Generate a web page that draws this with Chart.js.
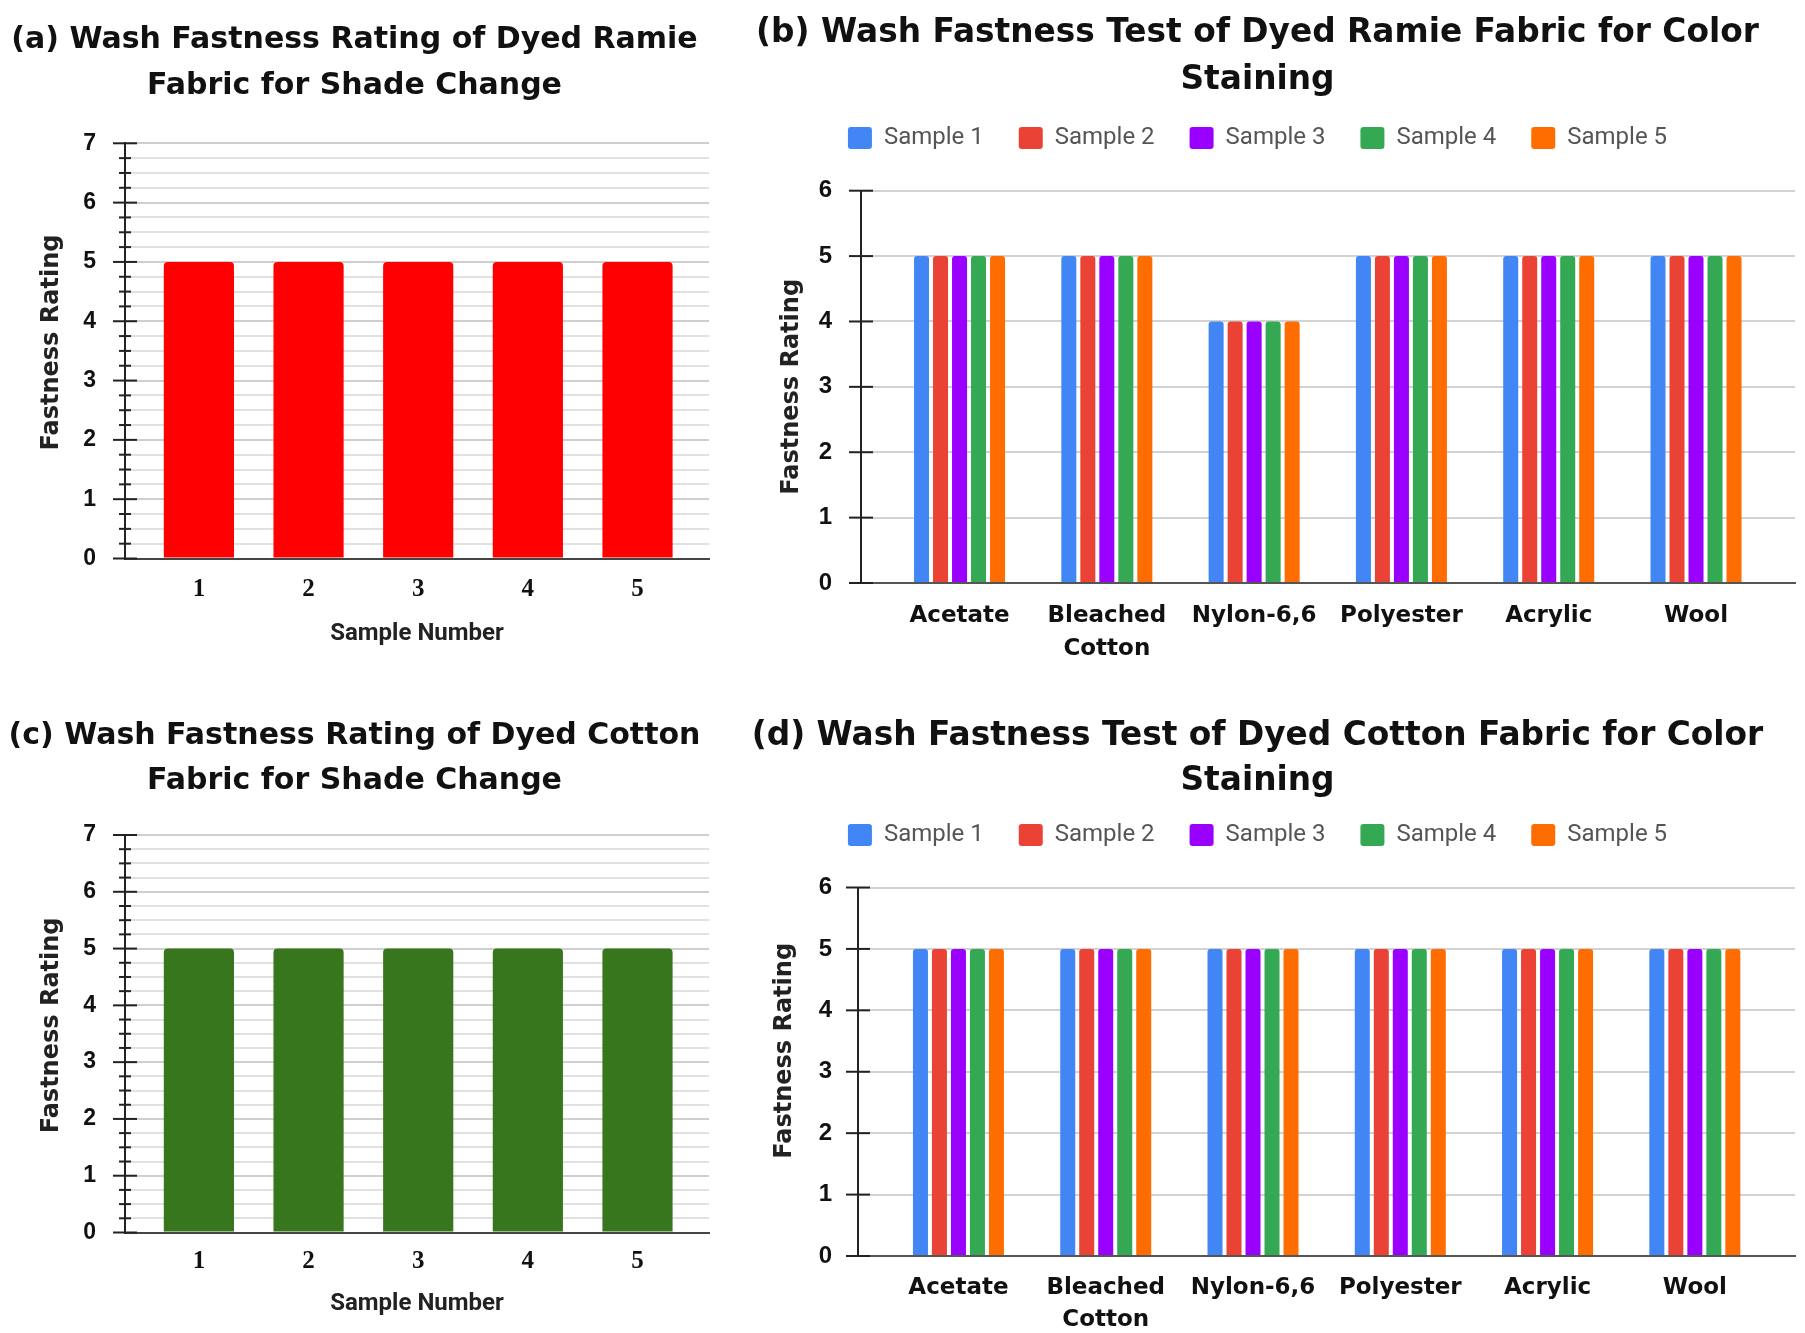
<!DOCTYPE html>
<html>
<head>
<meta charset="utf-8">
<script src="https://cdn.jsdelivr.net/npm/chart.js@4.4.1/dist/chart.umd.min.js"></script>
<style>
html,body{margin:0;padding:0;background:#fff;}
body{width:1805px;height:1333px;position:relative;overflow:hidden;font-family:Roboto,sans-serif;}
canvas{position:absolute;}
</style>
</head>
<body>
<canvas id="chartA" style="left:0;top:0" width="720" height="666"></canvas>
<canvas id="chartB" style="left:720px;top:0" width="1085" height="666"></canvas>
<canvas id="chartC" style="left:0;top:666px" width="720" height="667"></canvas>
<canvas id="chartD" style="left:720px;top:666px" width="1085" height="667"></canvas>
<script>
// ---------------- DATA ----------------
const sampleNumbers = [1, 2, 3, 4, 5];
const ramieShadeChange = [5, 5, 5, 5, 5];
const cottonShadeChange = [5, 5, 5, 5, 5];

const fabrics = ['Acetate', 'Bleached Cotton', 'Nylon-6,6', 'Polyester', 'Acrylic', 'Wool'];
const sampleNames = ['Sample 1', 'Sample 2', 'Sample 3', 'Sample 4', 'Sample 5'];

const ramieStainS1 = [5, 5, 4, 5, 5, 5];
const ramieStainS2 = [5, 5, 4, 5, 5, 5];
const ramieStainS3 = [5, 5, 4, 5, 5, 5];
const ramieStainS4 = [5, 5, 4, 5, 5, 5];
const ramieStainS5 = [5, 5, 4, 5, 5, 5];

const cottonStainS1 = [5, 5, 5, 5, 5, 5];
const cottonStainS2 = [5, 5, 5, 5, 5, 5];
const cottonStainS3 = [5, 5, 5, 5, 5, 5];
const cottonStainS4 = [5, 5, 5, 5, 5, 5];
const cottonStainS5 = [5, 5, 5, 5, 5, 5];

const shadeYRange = [0, 7];     // axis range for shade change charts
const stainYRange = [0, 6];     // axis range for staining charts

const titleA = ['(a) Wash Fastness Rating of Dyed Ramie', 'Fabric for Shade Change'];
const titleB = ['(b) Wash Fastness Test of Dyed Ramie Fabric for Color', 'Staining'];
const titleC = ['(c) Wash Fastness Rating of Dyed Cotton', 'Fabric for Shade Change'];
const titleD = ['(d) Wash Fastness Test of Dyed Cotton Fabric for Color', 'Staining'];
const yAxisTitle = 'Fastness Rating';
const xAxisTitle = 'Sample Number';

// ---------------- STYLE ----------------
const sampleColors = ['#4285F4', '#EA4335', '#9900FF', '#34A853', '#FF6D01'];
const TITLE_FONT = 'DejaVu Sans';

const isInt = v => Math.abs(v - Math.round(v)) < 1e-6;
const lead = n => '\u0020'.repeat(n);

const crossTicks = {
  id: 'crossTicks',
  afterDraw(chart, args, opts) {
    const ys = chart.scales.y, ctx = chart.ctx, x0 = chart.chartArea.left;
    ctx.save();
    ctx.strokeStyle = opts.color || '#222';
    ctx.lineWidth = opts.width || 2;
    ys.ticks.forEach((t, i) => {
      const py = ys.getPixelForTick(i);
      const major = isInt(t.value);
      const l = major ? opts.majorL : opts.minor;
      const r = major ? opts.majorR : opts.minor;
      ctx.beginPath();
      ctx.moveTo(x0 - l, py);
      ctx.lineTo(x0 + r, py);
      ctx.stroke();
    });
    ctx.restore();
  }
};

function shadeChart(id, values, color, titleLines, L) {
  return new Chart(document.getElementById(id), {
    type: 'bar',
    data: {
      datasets: [{
        label: yAxisTitle,
        data: sampleNumbers.map((x, i) => ({ x: x, y: values[i] })),
        backgroundColor: color,
        borderWidth: 0,
        borderRadius: 4,
        borderSkipped: 'start',
        categoryPercentage: 0.64,
        barPercentage: 1
      }]
    },
    options: {
      responsive: false,
      animation: false,
      layout: { padding: { left: 0, right: L.padR, top: 0, bottom: 0 } },
      plugins: {
        legend: { display: false },
        tooltip: { enabled: false },
        title: {
          display: true, text: titleLines, color: '#111',
          font: { family: TITLE_FONT, weight: 'bold', size: L.titleSize, lineHeight: L.titleLH / L.titleSize },
          padding: { top: L.titlePT, bottom: L.titlePB }
        },
        crossTicks: { majorL: 12, majorR: 12, minor: 6, color: '#222', width: 2 }
      },
      scales: {
        x: {
          type: 'linear', min: L.xMin, max: L.xMax, offset: false,
          afterBuildTicks: s => { s.ticks = sampleNumbers.map(v => ({ value: v })); },
          ticks: {
            autoSkip: false, maxRotation: 0, padding: L.xTickPad, color: '#111',
            font: { family: 'Liberation Serif', weight: 'bold', size: 25, lineHeight: 1.2 },
            callback: v => String(v)
          },
          grid: { display: false, drawTicks: false, offset: false },
          border: { display: true, color: '#444', width: 2 },
          title: {
            display: true, text: xAxisTitle, color: '#222',
            font: { family: 'Roboto', weight: 'bold', size: 24, lineHeight: 1.2 },
            padding: { top: 0, bottom: L.xTitlePB }
          },
          afterFit: s => { s.height = L.xHeight; }
        },
        y: {
          type: 'linear', min: shadeYRange[0], max: shadeYRange[1],
          ticks: {
            stepSize: 0.25, maxTicksLimit: 100, autoSkip: false, padding: 29, color: '#111',
            font: { family: 'Liberation Sans', weight: 'bold', size: 23 },
            callback: v => isInt(v) ? String(Math.round(v)) : ''
          },
          grid: {
            drawTicks: false, lineWidth: 2,
            color: c => (c.tick && isInt(c.tick.value)) ? '#cfcfcf' : '#e1e1e1'
          },
          border: { display: true, color: '#222', width: 2 },
          title: {
            display: true, text: lead(L.yLead) + yAxisTitle, color: '#222',
            font: { family: 'DejaVu Sans', weight: 'bold', size: 24, lineHeight: 1.2 },
            padding: { top: L.yTitlePT, bottom: 0 }
          },
          afterFit: s => { s.width = L.yWidth; }
        }
      }
    },
    plugins: [crossTicks]
  });
}

function stainChart(id, series, titleLines, L) {
  return new Chart(document.getElementById(id), {
    type: 'bar',
    data: {
      datasets: sampleNames.map((name, k) => ({
        label: name,
        data: fabrics.map((f, i) => ({ x: i + 1, y: series[k][i] })),
        backgroundColor: sampleColors[k],
        borderWidth: 0,
        borderRadius: 3,
        borderSkipped: 'start',
        categoryPercentage: 0.645,
        barPercentage: 0.79
      }))
    },
    options: {
      responsive: false,
      animation: false,
      layout: { padding: { left: 0, right: L.padR, top: 0, bottom: 0 } },
      plugins: {
        tooltip: { enabled: false },
        title: {
          display: true, text: titleLines, color: '#111',
          font: { family: TITLE_FONT, weight: 'bold', size: L.titleSize, lineHeight: L.titleLH / L.titleSize },
          padding: { top: L.titlePT, bottom: L.titlePB }
        },
        legend: {
          display: true, position: 'top', align: 'center',
          labels: {
            color: '#555', font: { family: 'Roboto', size: 24, lineHeight: 1.2 },
            boxWidth: 24, boxHeight: 22, padding: 35, useBorderRadius: true, borderRadius: 3
          }
        },
        subtitle: {
          display: true, text: '', weight: 500, position: 'top',
          font: { size: 10, lineHeight: 1 }, padding: { top: 0, bottom: L.gap }
        },
        crossTicks: { majorL: 12, majorR: 12, minor: 6, color: '#222', width: 2 }
      },
      scales: {
        x: {
          type: 'linear', min: L.xMin, max: L.xMax, offset: false,
          afterBuildTicks: s => { s.ticks = fabrics.map((f, i) => ({ value: i + 1 })); },
          ticks: {
            autoSkip: false, maxRotation: 0, padding: L.xTickPad, color: '#111',
            font: { family: 'DejaVu Sans', weight: 'bold', size: 23, lineHeight: L.xTickLH },
            callback: v => { const f = fabrics[Math.round(v) - 1]; return f.includes(' ') ? f.split(' ') : f; }
          },
          grid: { display: false, drawTicks: false, offset: false },
          border: { display: true, color: '#555', width: 2 },
          afterFit: s => { s.height = L.xHeight; }
        },
        y: {
          type: 'linear', min: stainYRange[0], max: stainYRange[1],
          ticks: {
            stepSize: 1, autoSkip: false, padding: L.yLabelPad, color: '#111',
            font: { family: 'Liberation Sans', weight: 'bold', size: 24 },
            callback: v => String(v)
          },
          grid: { drawTicks: false, lineWidth: 2, color: '#d2d2d2' },
          border: { display: true, color: '#222', width: 2 },
          title: {
            display: true, text: lead(L.yLead) + yAxisTitle, color: '#222',
            font: { family: 'DejaVu Sans', weight: 'bold', size: 24, lineHeight: 1.2 },
            padding: { top: L.yTitlePT, bottom: 0 }
          },
          afterFit: s => { s.width = L.yWidth; }
        }
      }
    },
    plugins: [crossTicks]
  });
}

shadeChart('chartA', ramieShadeChange, '#FF0000', titleA, {
  padR: 11, titleSize: 30, titleLH: 46, titlePT: 17.3, titlePB: 34,
  yWidth: 125, yTitlePT: 37.6, yLead: 2,
  xHeight: 107.5, xTickPad: 16.5, xTitlePB: 17.3, xMin: 0.326, xMax: 5.652
});

shadeChart('chartC', cottonShadeChange, '#38761D', titleC, {
  padR: 11, titleSize: 30, titleLH: 45, titlePT: 47.5, titlePB: 31.5,
  yWidth: 125, yTitlePT: 37.6, yLead: 2,
  xHeight: 100.5, xTickPad: 14.5, xTitlePB: 14.5, xMin: 0.326, xMax: 5.652
});

stainChart('chartB', [ramieStainS1, ramieStainS2, ramieStainS3, ramieStainS4, ramieStainS5], titleB, {
  padR: 10, titleSize: 32.8, titleLH: 47, titlePT: 9.5, titlePB: -12.5, gap: 20.7,
  yWidth: 141, yLabelPad: 29, yTitlePT: 57.6, yLead: 0,
  xHeight: 83, xTickPad: 16.4, xTickLH: 1.45, xMin: 0.331, xMax: 6.672
});

stainChart('chartD', [cottonStainS1, cottonStainS2, cottonStainS3, cottonStainS4, cottonStainS5], titleD, {
  padR: 10, titleSize: 32.8, titleLH: 45, titlePT: 47.5, titlePB: -15.5, gap: 20.5,
  yWidth: 138, yLabelPad: 26, yTitlePT: 50.6, yLead: 5,
  xHeight: 77, xTickPad: 17, xTickLH: 1.35, xMin: 0.318, xMax: 6.68
});
</script>
</body>
</html>
